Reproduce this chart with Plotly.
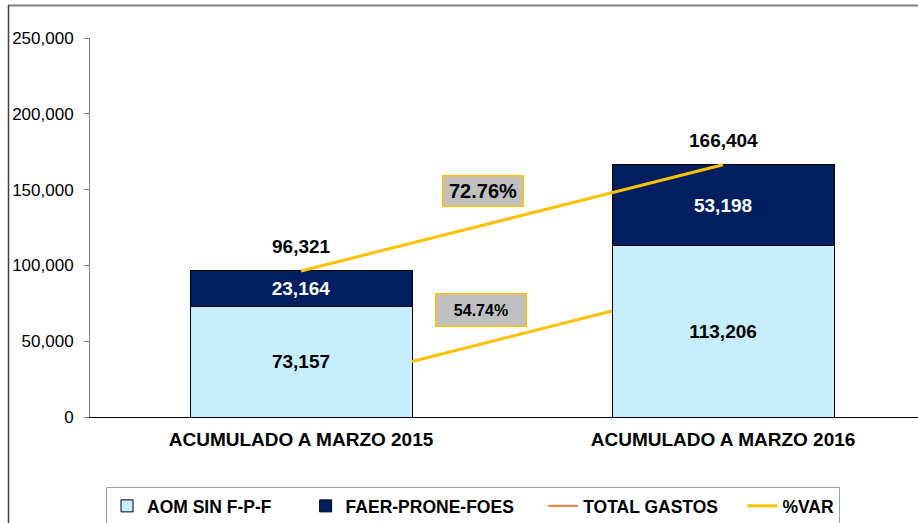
import plotly.graph_objects as go

categories = ["ACUMULADO A MARZO 2015", "ACUMULADO A MARZO 2016"]
series_names = ["AOM SIN F-P-F", "FAER-PRONE-FOES", "TOTAL GASTOS", "%VAR"]
aom = [73157, 113206]
faer = [23164, 53198]
totals = [96321, 166404]
var_total_label = "72.76%"
var_aom_label = "54.74%"
# visible part of the lower %VAR line, read at the inner bar edges
var_aom_line = [36600, 69900]
y_ticks = [0, 50000, 100000, 150000, 200000, 250000]

FONT = "Liberation Sans"
LIGHT = "#C7EEFC"
NAVY = "#001F60"
GOLD = "#FFC000"
ORANGE = "#F47C30"
BW = 0.526
xpos = [0, 1]

W, H = 918, 523
L, R, T, B = 90, 0, 38, 106
pw, ph = W - L - R, H - T - B


def px_x(p):
    return (p - L) / pw


def px_y(p):
    return (H - B - p) / ph


NB = "\u00a0"
legend_pad = [6, 5, 4, 0]
leg = [n + NB * p for n, p in zip(series_names, legend_pad)]

fig = go.Figure()
fig.add_trace(go.Bar(
    x=xpos, y=aom, name=leg[0], width=BW,
    marker=dict(color=LIGHT, line=dict(color="#000000", width=1)),
    text=[f"{v:,}" for v in aom], textposition="inside", insidetextanchor="middle",
    textfont=dict(family=FONT, size=19, color="#000000", weight="bold"),
    textangle=0,
))
fig.add_trace(go.Bar(
    x=xpos, y=faer, name=leg[1], width=BW,
    marker=dict(color=NAVY, line=dict(color="#000000", width=1)),
    text=[f"{v:,}" for v in faer], textposition="inside", insidetextanchor="middle",
    textfont=dict(family=FONT, size=19, color="#FFFFFF", weight="bold"),
    textangle=0,
))
fig.add_trace(go.Scatter(
    x=[None], y=[None], mode="lines", name=leg[2],
    line=dict(color=ORANGE, width=2),
))
fig.add_trace(go.Scatter(
    x=xpos, y=totals, mode="lines", name=leg[3], legendgroup="var",
    line=dict(color=GOLD, width=3),
))
fig.add_trace(go.Scatter(
    x=[xpos[0] + BW / 2, xpos[1] - BW / 2], y=var_aom_line, mode="lines",
    name=leg[3], legendgroup="var", showlegend=False,
    line=dict(color=GOLD, width=3),
))

annotations = []
for x, t in zip(xpos, totals):
    annotations.append(dict(
        x=x, y=t, xref="x", yref="y", text=f"{t:,}", showarrow=False,
        yanchor="bottom", yshift=12,
        font=dict(family=FONT, size=19, color="#000000", weight="bold"),
    ))
annotations.append(dict(
    x=0.5, y=(totals[0] + totals[1]) / 2, xref="x", yref="y", text=var_total_label,
    showarrow=False, xshift=-29, yshift=27, width=75, height=25, borderpad=2,
    bgcolor="#C0C0C0", bordercolor=GOLD, borderwidth=1.5,
    font=dict(family=FONT, size=20, color="#000000", weight="bold"),
))
annotations.append(dict(
    x=0.5, y=(var_aom_line[0] + var_aom_line[1]) / 2, xref="x", yref="y",
    text=var_aom_label, showarrow=False, xshift=-31, yshift=26,
    width=85, height=27, borderpad=2,
    bgcolor="#C0C0C0", bordercolor=GOLD, borderwidth=1.5,
    font=dict(family=FONT, size=16, color="#000000", weight="bold"),
))

shapes = [
    dict(type="line", xref="paper", yref="paper", x0=px_x(8), x1=px_x(918),
         y0=px_y(5.5), y1=px_y(5.5), line=dict(color="#808080", width=2)),
    dict(type="line", xref="paper", yref="paper", x0=px_x(8.5), x1=px_x(8.5),
         y0=px_y(5), y1=px_y(523), line=dict(color="#404040", width=1.5)),
]

fig.update_layout(
    width=W, height=H, barmode="stack",
    margin=dict(l=L, r=R, t=T, b=B, pad=0, autoexpand=False),
    paper_bgcolor="#FFFFFF", plot_bgcolor="#FFFFFF",
    font=dict(family=FONT, color="#000000"),
    annotations=annotations, shapes=shapes,
    showlegend=True,
    legend=dict(
        orientation="h", x=px_x(106), xanchor="left", y=px_y(487), yanchor="top",
        bordercolor="#A0A0A0", borderwidth=1, bgcolor="#FFFFFF",
        font=dict(family=FONT, size=17.5, color="#000000", weight="bold"),
        traceorder="normal",
    ),
    xaxis=dict(
        range=[-0.5, 1.462], tickvals=xpos, ticktext=categories,
        showgrid=False, zeroline=False, showline=True, linecolor="#000000", linewidth=1,
        ticks="", tickfont=dict(family=FONT, size=19, color="#000000", weight="bold"),
        ticklabelstandoff=5, fixedrange=True,
    ),
    yaxis=dict(
        range=[0, 250000], tickvals=y_ticks, tickformat=",",
        showgrid=False, zeroline=False, showline=True, linecolor="#808080", linewidth=1,
        ticks="outside", ticklen=5, tickcolor="#808080",
        tickfont=dict(family=FONT, size=17, color="#000000"),
        ticklabelstandoff=7,
    ),
)

fig.write_html("out.html", config={"displayModeBar": False})

# remove the browser's default page margin so the figure sits at (0, 0)
with open("out.html", "r", encoding="utf-8") as f:
    html = f.read()
html = html.replace("<head>", "<head><style>html,body{margin:0;padding:0;overflow:hidden;}</style>", 1)
with open("out.html", "w", encoding="utf-8") as f:
    f.write(html)
